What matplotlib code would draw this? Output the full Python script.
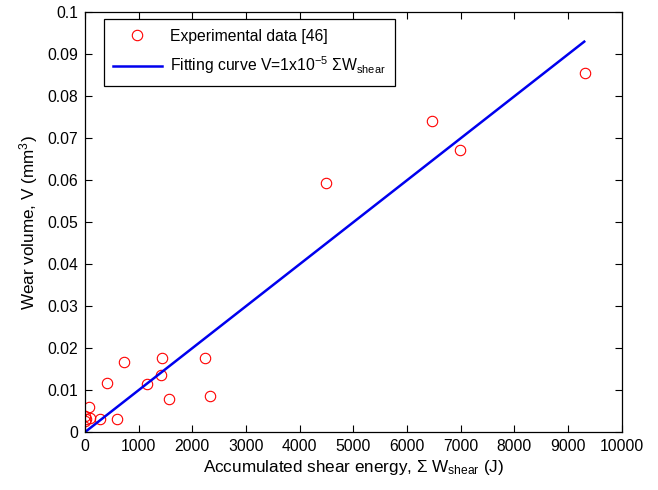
import numpy as np
import matplotlib
matplotlib.use("Agg")
import matplotlib.pyplot as plt

plt.rcParams['font.family'] = ['Liberation Sans', 'DejaVu Sans']
plt.rcParams['mathtext.fontset'] = 'custom'
plt.rcParams['mathtext.rm'] = 'Liberation Sans'
plt.rcParams['mathtext.it'] = 'Liberation Sans:italic'
plt.rcParams['mathtext.default'] = 'regular'

energy = [10, 10, 20, 75, 90, 285, 421, 601, 732, 1160, 1409, 1440, 1564,
          2229, 2322, 4490, 6462, 6990, 9310]
volume = [0.0038, 0.0027, 0.0032, 0.0061, 0.0034, 0.0032, 0.0116, 0.0032,
          0.0166, 0.0114, 0.0136, 0.0177, 0.0078, 0.0177, 0.0087, 0.0593,
          0.0740, 0.0673, 0.0855]

# fitting curve V = 1e-5 * sum W_shear
fit_x = np.array([0, 9300])
fit_k = 1e-5

xticks = list(range(0, 10001, 1000))
yticks = [0, 0.01, 0.02, 0.03, 0.04, 0.05, 0.06, 0.07, 0.08, 0.09, 0.1]
ytick_labels = ['0', '0.01', '0.02', '0.03', '0.04', '0.05', '0.06',
                '0.07', '0.08', '0.09', '0.1']

fig = plt.figure(figsize=(6.58, 4.90), dpi=100)
ax = fig.add_axes([0.129, 0.118, 0.816, 0.857])

ax.plot(energy, volume, 'o', mfc='none', mec='red', ms=7.5, mew=0.8,
        label='Experimental data [46]')
ax.plot(fit_x, fit_k * fit_x, '-', color='#0000ee', lw=1.8,
        label=r'Fitting curve V=1x10$^{-5}$ $\Sigma$W$_{shear}$')

ax.set_xlim(0, 10000)
ax.set_ylim(0, 0.1)
ax.set_xticks(xticks)
ax.set_xticklabels([str(t) for t in xticks])
ax.set_yticks(yticks)
ax.set_yticklabels(ytick_labels)
ax.tick_params(direction='in', top=True, right=True, length=5, width=0.8,
               labelsize=11.3, pad=5)
for s in ax.spines.values():
    s.set_linewidth(0.9)

ax.set_xlabel(r'Accumulated shear energy, $\Sigma$ W$_{shear}$ (J)', fontsize=12.3, labelpad=3)
ax.set_ylabel(r'Wear volume, V (mm$^3$)', fontsize=12.3, labelpad=5)

leg = ax.legend(loc='upper left', bbox_to_anchor=(0.035, 0.983), fontsize=11.3,
                fancybox=False, edgecolor='black', framealpha=1,
                borderaxespad=0, borderpad=0.6, handlelength=3.1,
                handletextpad=0.5, labelspacing=0.7)
leg.get_frame().set_linewidth(0.9)

fig.savefig('out.png', dpi=100)
